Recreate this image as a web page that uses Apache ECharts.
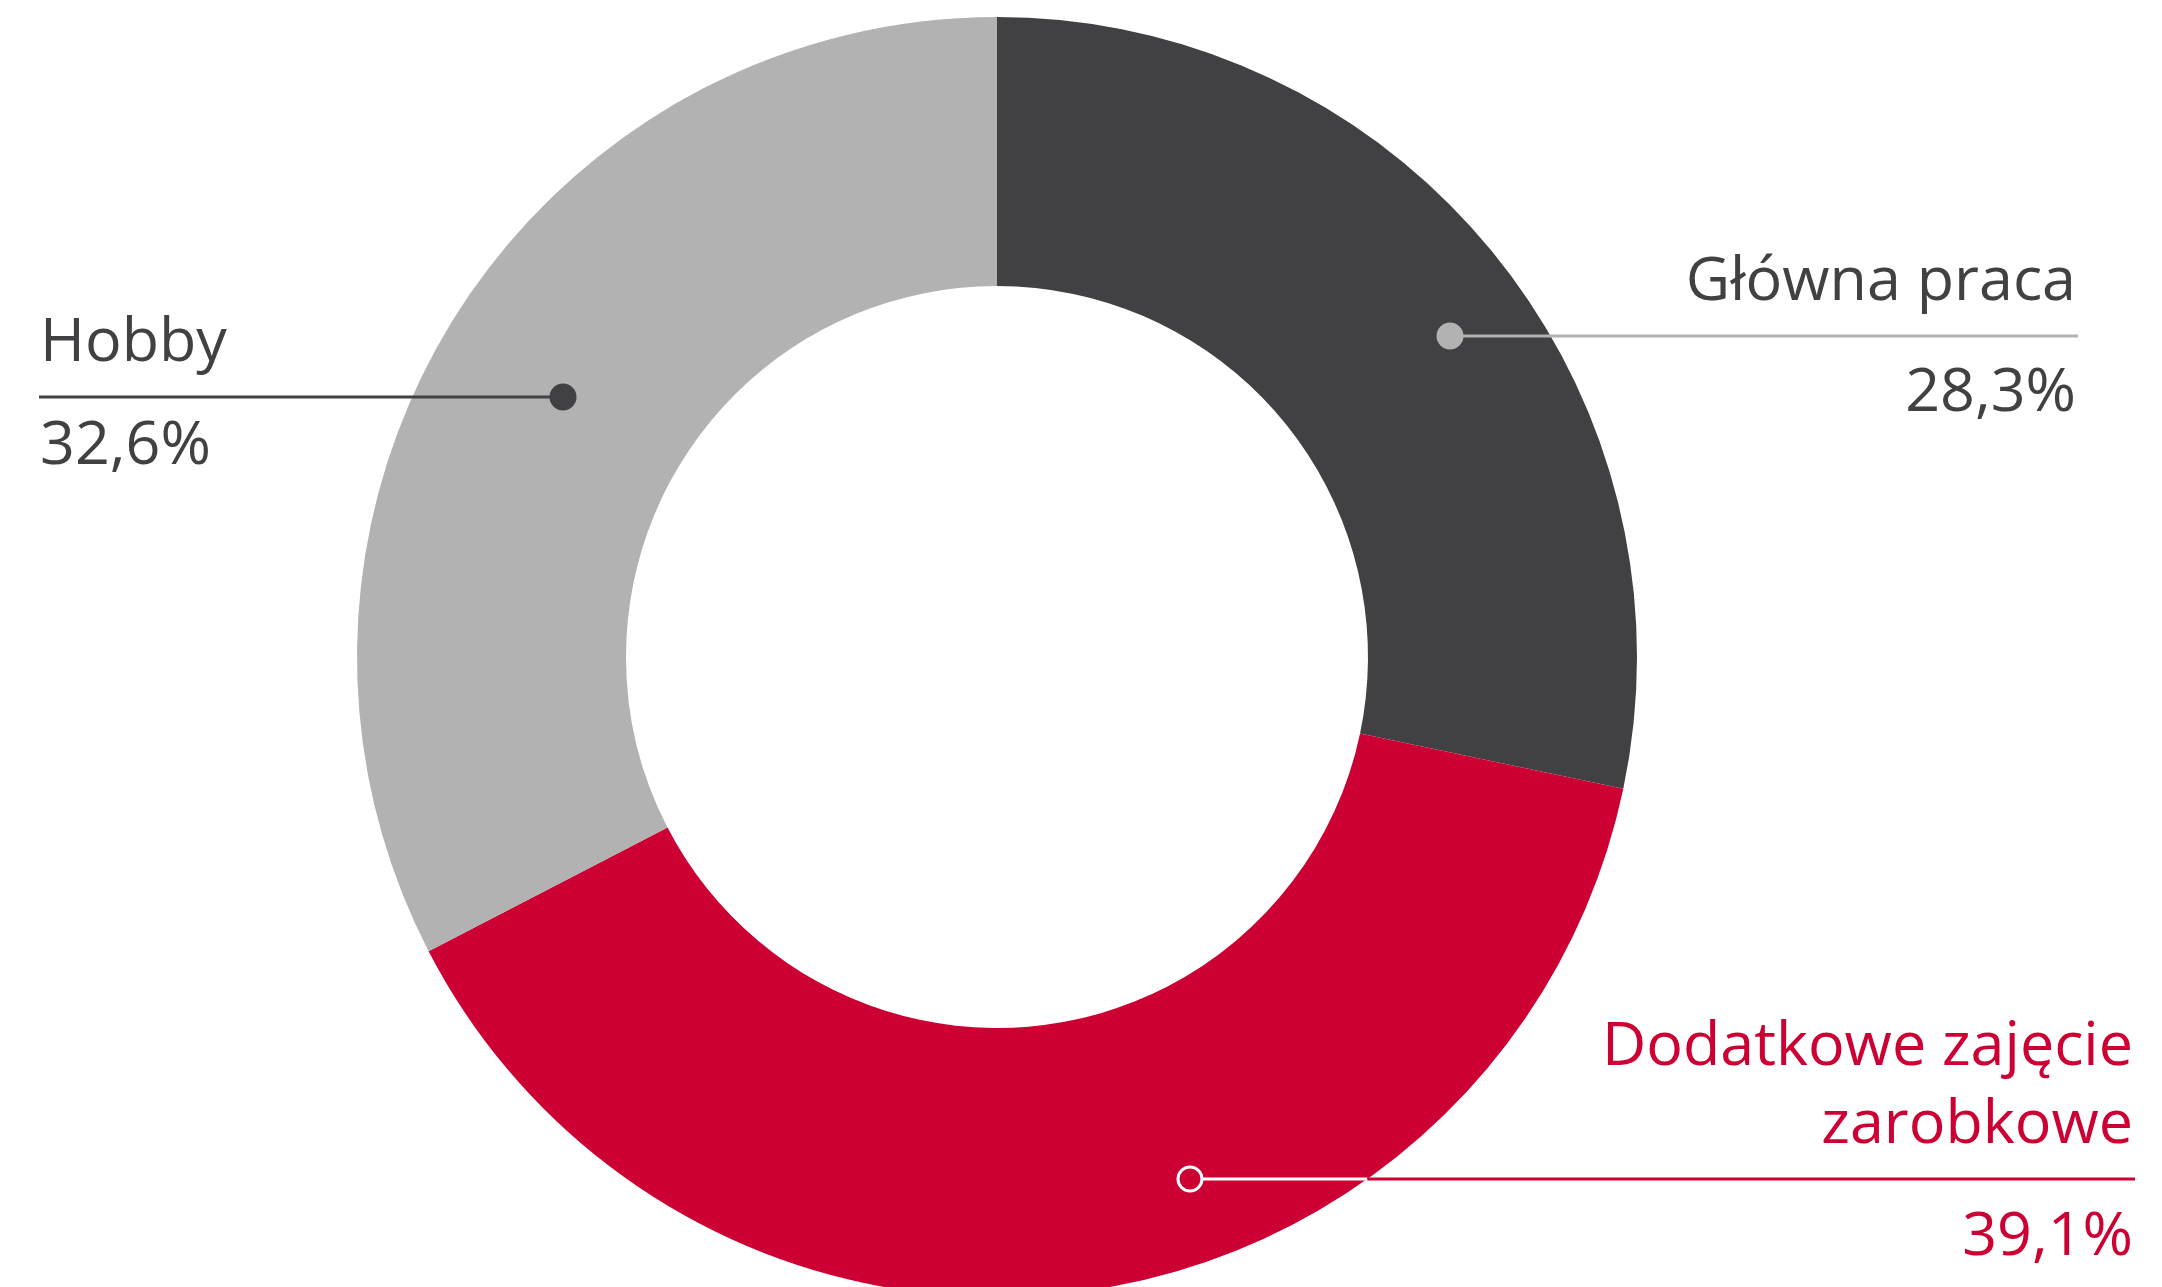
<!DOCTYPE html>
<html>
<head>
<meta charset="utf-8">
<script src="https://cdn.jsdelivr.net/npm/echarts@6/dist/echarts.min.js"></script>
<style>
  html, body { margin: 0; padding: 0; background: #ffffff; }
  #chart { width: 2162px; height: 1287px; }
</style>
</head>
<body>
<div id="chart"></div>
<script>
// Share of respondents by type of activity (percent)
const categories = ['Główna praca', 'Dodatkowe zajęcie zarobkowe', 'Hobby'];
const shares = [28.3, 39.1, 32.6];

// Slice colours, one per category
const sliceColors = ['#414042', '#cc0033', '#b2b2b2'];

// Ring geometry (pixels)
const CENTER = [997, 657];
const R_IN = 371;
const R_OUT = 640;

// Callout placement: marker point, horizontal rule end, text side, gap to value baseline and colours
const callouts = [
  { dot: [1450, 336], end: 2078, side: 'right', valueGap: 80, mark: '#b2b2b2', rule: '#b2b2b2', text: '#414042', ring: false },
  { dot: [1190, 1179], end: 2135, side: 'right', valueGap: 81, mark: '#ffffff', rule: '#cc0033', text: '#cc0033', ring: true },
  { dot: [563, 397], end: 39, side: 'left', valueGap: 72, mark: '#414042', rule: '#414042', text: '#414042', ring: false }
];

const FONT_FAMILY = '"Open Sans", "Noto Sans", sans-serif';
const FONT_SIZE = 61;
const CAP_MID = 22;          // distance from baseline to the middle of capitals
const NAME_GAP = 31;         // rule to baseline of the last name line
const NAME_LINE_GAP = 78;    // baseline to baseline within a wrapped name

function fmtShare(v) {
  return v.toFixed(1).replace('.', ',') + '%';
}

// break long category names onto two lines at the last space
function wrapName(name, maxLen) {
  if (name.length <= maxLen) return [name];
  const cut = name.lastIndexOf(' ');
  return [name.slice(0, cut), name.slice(cut + 1)];
}

function textEl(str, x, baseline, color, align) {
  return {
    type: 'text', z: 100, x: x, y: baseline - CAP_MID,
    style: { text: str, fill: color, font: '400 ' + FONT_SIZE + 'px ' + FONT_FAMILY, textAlign: align, textVerticalAlign: 'middle' }
  };
}

const graphics = [];
categories.forEach(function (name, i) {
  const c = callouts[i];
  const y = c.dot[1];
  const right = c.side === 'right';
  const textX = right ? c.end - 2 : c.end + 1;
  const align = right ? 'right' : 'left';

  // horizontal rule with its marker
  if (c.ring) {
    // the part over the slice is white, the rest takes the slice colour
    const edgeX = CENTER[0] + Math.sqrt(R_OUT * R_OUT - (y - CENTER[1]) * (y - CENTER[1]));
    graphics.push({ type: 'line', z: 100, shape: { x1: c.dot[0], y1: y, x2: edgeX, y2: y }, style: { stroke: '#ffffff', lineWidth: 3 } });
    graphics.push({ type: 'line', z: 100, shape: { x1: edgeX, y1: y, x2: c.end, y2: y }, style: { stroke: c.rule, lineWidth: 3 } });
    graphics.push({ type: 'circle', z: 101, shape: { cx: c.dot[0], cy: y, r: 12 }, style: { fill: sliceColors[i], stroke: c.mark, lineWidth: 3 } });
  } else {
    graphics.push({ type: 'line', z: 100, shape: { x1: c.dot[0], y1: y, x2: c.end, y2: y }, style: { stroke: c.rule, lineWidth: 3 } });
    graphics.push({ type: 'circle', z: 101, shape: { cx: c.dot[0], cy: y, r: 13.5 }, style: { fill: c.mark } });
  }

  // category name above the rule
  const lines = wrapName(name, 18);
  lines.forEach(function (ln, k) {
    const baseline = y - NAME_GAP - (lines.length - 1 - k) * NAME_LINE_GAP;
    graphics.push(textEl(ln, textX, baseline, c.text, align));
  });

  // share value below the rule
  graphics.push(textEl(fmtShare(shares[i]), textX, y + c.valueGap, c.text, align));
});

const chart = echarts.init(document.getElementById('chart'), null, { renderer: 'canvas' });
chart.setOption({
  animation: false,
  backgroundColor: '#ffffff',
  series: [{
    type: 'pie',
    center: CENTER,
    radius: [R_IN, R_OUT],
    startAngle: 90,
    clockwise: true,
    silent: true,
    label: { show: false },
    labelLine: { show: false },
    itemStyle: { borderWidth: 0 },
    data: categories.map(function (n, i) {
      return { name: n, value: shares[i], itemStyle: { color: sliceColors[i] } };
    })
  }],
  graphic: graphics
});
</script>
</body>
</html>
